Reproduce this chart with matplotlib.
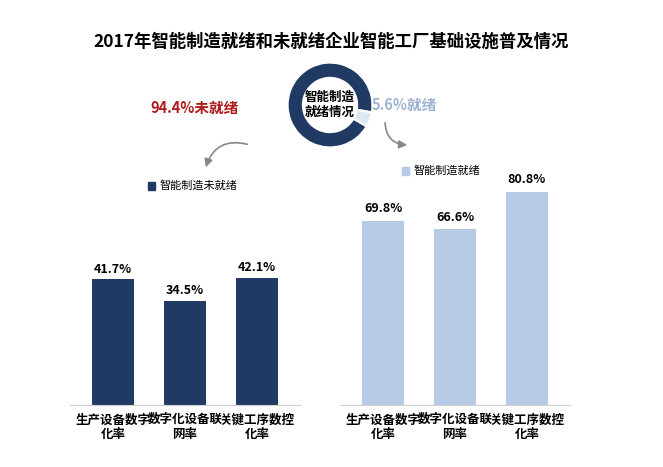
import matplotlib.pyplot as plt
from matplotlib.patches import FancyArrowPatch

plt.rcParams['font.family'] = ['Noto Sans CJK JP', 'Noto Sans CJK SC', 'DejaVu Sans']

W, H = 663, 467
dark = '#203a63'
light = '#b7cbe6'

donut_labels = ['未就绪', '就绪']
donut_vals = [94.4, 5.6]

cats = ['生产设备数字\n化率', '数字化设备联\n网率', '关键工序数控\n化率']
not_ready = [41.7, 34.5, 42.1]
ready = [69.8, 66.6, 80.8]

fig = plt.figure(figsize=(W / 100, H / 100), dpi=100)

def ax_at(x0, y0, x1, y1):
    # pixel box (top-left origin) -> figure axes
    return fig.add_axes([x0 / W, 1 - y1 / H, (x1 - x0) / W, (y1 - y0) / H])

fig.text(0.5, 1 - 42 / H, '2017年智能制造就绪和未就绪企业智能工厂基础设施普及情况',
         ha='center', va='center', fontsize=12.5, fontweight='bold')

# donut
axd = ax_at(272, 52, 388, 158)
axd.pie(donut_vals, colors=[dark, '#dfe7f2'], startangle=-10, counterclock=True,
        wedgeprops=dict(width=0.36, edgecolor='white', linewidth=1.5))
axd.text(0, 0, '智能制造\n就绪情况', ha='center', va='center', fontsize=9, fontweight='bold')
axd.set_aspect('equal')
fig.text(150 / W, 1 - 108 / H, '94.4%未就绪', color='#b01c1c', fontsize=10.5, fontweight='bold', va='center')
fig.text(372 / W, 1 - 105 / H, '5.6%就绪', color='#9fb4d4', fontsize=10.5, fontweight='bold', va='center')

for p0, p1 in [((250, 145), (205, 170)), ((385, 120), (410, 145))]:
    fig.patches.append(FancyArrowPatch((p0[0] / W, 1 - p0[1] / H), (p1[0] / W, 1 - p1[1] / H),
                                       transform=fig.transFigure, connectionstyle='arc3,rad=0.5',
                                       arrowstyle='-|>', mutation_scale=12, color='#888888', lw=1.2))

def bars(box, vals, color, ymax, leg, legpos):
    ax = ax_at(*box)
    x = range(len(vals))
    ax.bar(x, vals, width=0.58, color=color)
    for i, v in enumerate(vals):
        ax.text(i, v + ymax * 0.025, f'{v}%', ha='center', va='bottom', fontsize=9, fontweight='bold')
    ax.set_ylim(0, ymax)
    ax.set_xlim(-0.6, len(vals) - 0.4)
    ax.set_yticks([])
    ax.set_xticks(list(x))
    ax.set_xticklabels(cats, fontsize=9, fontweight='bold')
    ax.tick_params(axis='x', length=0, pad=6)
    for s in ['top', 'right', 'left']:
        ax.spines[s].set_visible(False)
    ax.spines['bottom'].set_color('#d0d0d0')
    fig.patches.append(plt.Rectangle((legpos[0] / W, 1 - (legpos[1] + 4) / H), 7 / W, 8 / H,
                                     transform=fig.transFigure, color=color))
    fig.text((legpos[0] + 12) / W, 1 - legpos[1] / H, leg, fontsize=8, va='center')

bars((70, 270, 300, 405), not_ready, dark, 135 / 3.02, '智能制造未就绪', (148, 186))
bars((340, 180, 570, 405), ready, light, 225 / 2.64, '智能制造就绪', (402, 171))

fig.savefig('out.png', dpi=100)
